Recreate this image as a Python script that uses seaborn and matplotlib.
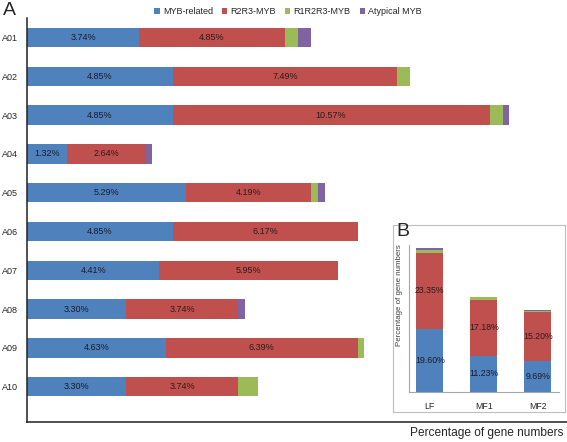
import matplotlib
matplotlib.use('Agg')
import matplotlib.pyplot as plt
import seaborn as sns
import pandas as pd
from matplotlib.patches import Patch

# ---- data (main panel A) ----
chromosomes = ['A01', 'A02', 'A03', 'A04', 'A05', 'A06', 'A07', 'A08', 'A09', 'A10']
myb_related = [3.74, 4.85, 4.85, 1.32, 5.29, 4.85, 4.41, 3.30, 4.63, 3.30]
r2r3_myb = [4.85, 7.49, 10.57, 2.64, 4.19, 6.17, 5.95, 3.74, 6.39, 3.74]
r1r2r3_myb = [0.44, 0.44, 0.44, 0.00, 0.22, 0.00, 0.00, 0.00, 0.22, 0.66]
atypical_myb = [0.44, 0.00, 0.22, 0.22, 0.22, 0.00, 0.00, 0.22, 0.00, 0.00]

# ---- data (inset panel B) ----
tissues = ['LF', 'MF1', 'MF2']
tissue_myb_related = [19.60, 11.23, 9.69]
tissue_r2r3_myb = [23.35, 17.18, 15.20]
tissue_r1r2r3_myb = [1.0, 1.1, 0.3]
tissue_atypical_myb = [0.7, 0.0, 0.3]

series_names = ['MYB-related', 'R2R3-MYB', 'R1R2R3-MYB', 'Atypical MYB']
colors = ['#4F81BD', '#C0504D', '#9BBB59', '#8064A2']

sns.set_style('white')
plt.rcParams['font.family'] = ['Liberation Sans', 'DejaVu Sans']

W, H = 567, 442
fig = plt.figure(figsize=(W / 100, H / 100), dpi=100)


def stacked_frame(cat_name, cats, s1, s2, s3, s4):
    df = pd.DataFrame({cat_name: cats, 's1': s1, 's2': s2, 's3': s3, 's4': s4})
    df['c1'] = df['s1']
    df['c2'] = df['c1'] + df['s2']
    df['c3'] = df['c2'] + df['s3']
    df['c4'] = df['c3'] + df['s4']
    return df


# ---------------- main panel ----------------
ax = fig.add_axes([27 / W, 1 - 421.7 / H, 540 / W, 403.7 / H])
df = stacked_frame('chrom', chromosomes, myb_related, r2r3_myb, r1r2r3_myb, atypical_myb)
for col, colr in zip(['c4', 'c3', 'c2', 'c1'], colors[::-1]):
    sns.barplot(data=df, x=col, y='chrom', orient='h', order=chromosomes, color=colr,
                saturation=1, width=0.5, linewidth=0, errorbar=None, ax=ax)
for i in range(len(chromosomes)):
    a, b = myb_related[i], r2r3_myb[i]
    ax.text(a / 2, i, f"{a:.2f}%", ha='center', va='center', fontsize=6.5, color='#1c1c2a')
    ax.text(a + b / 2, i, f"{b:.2f}%", ha='center', va='center', fontsize=6.5, color='#2a1c1c')
ax.set_xlim(0, 18)
ax.set_ylim(9.9, -0.5)
ax.set_xticks([])
ax.set_ylabel('')
ax.tick_params(axis='y', length=0, pad=6.5, labelsize=6.5)
for s in ['top', 'right']:
    ax.spines[s].set_visible(False)
for s in ['left', 'bottom']:
    ax.spines[s].set_color('#222222')
    ax.spines[s].set_linewidth(1.1)
ax.set_xlabel('Percentage of gene numbers', fontsize=8.6, loc='right')
ax.xaxis.set_label_coords(0.994, -0.012)

handles = [Patch(facecolor=c, edgecolor='none') for c in colors]
fig.legend(handles, series_names, loc='center', bbox_to_anchor=(288 / W, 1 - 12 / H), ncol=4,
           frameon=False, fontsize=6.5, handlelength=0.6, handleheight=0.6,
           handletextpad=0.35, columnspacing=1.0, borderaxespad=0, borderpad=0)

fig.text(3 / W, 1 - 2 / H, 'A', ha='left', va='top', fontsize=14)

# ---------------- inset panel ----------------
frame = fig.add_axes([393 / W, 1 - 412 / H, 172 / W, 187 / H])
frame.set_xticks([])
frame.set_yticks([])
frame.set_facecolor('white')
for s in frame.spines.values():
    s.set_color('#BFBFBF')
    s.set_linewidth(0.8)

ax2 = fig.add_axes([409 / W, 1 - 392 / H, 150 / W, 147 / H])
df2 = stacked_frame('tissue', tissues, tissue_myb_related, tissue_r2r3_myb,
                    tissue_r1r2r3_myb, tissue_atypical_myb)
for col, colr in zip(['c4', 'c3', 'c2', 'c1'], colors[::-1]):
    sns.barplot(data=df2, x='tissue', y=col, order=tissues, color=colr, saturation=1,
                width=0.5, linewidth=0, errorbar=None, ax=ax2)
for i in range(len(tissues)):
    a, b = tissue_myb_related[i], tissue_r2r3_myb[i]
    ax2.text(i, a / 2, f"{a:.2f}%", ha='center', va='center', fontsize=6.3, color='#1c1c2a')
    ax2.text(i, a + b / 2, f"{b:.2f}%", ha='center', va='center', fontsize=6.3, color='#2a1c1c')
ax2.set_xlim(-0.383, 2.395)
ax2.set_ylim(0, 45.5)
ax2.set_yticks([])
ax2.set_xlabel('')
ax2.set_ylabel('Percentage of gene numbers', fontsize=5.7, color='#404040')
ax2.yaxis.set_label_coords(-0.042, 0.66)
ax2.tick_params(axis='x', length=0, pad=7, labelsize=6.3)
ax2.patch.set_alpha(0)
for s in ['top', 'right']:
    ax2.spines[s].set_visible(False)
for s in ['left', 'bottom']:
    ax2.spines[s].set_color('#A6A6A6')
    ax2.spines[s].set_linewidth(0.8)

fig.text(396 / W, 1 - 223 / H, 'B', ha='left', va='top', fontsize=14)

fig.savefig('out.png', dpi=100)
